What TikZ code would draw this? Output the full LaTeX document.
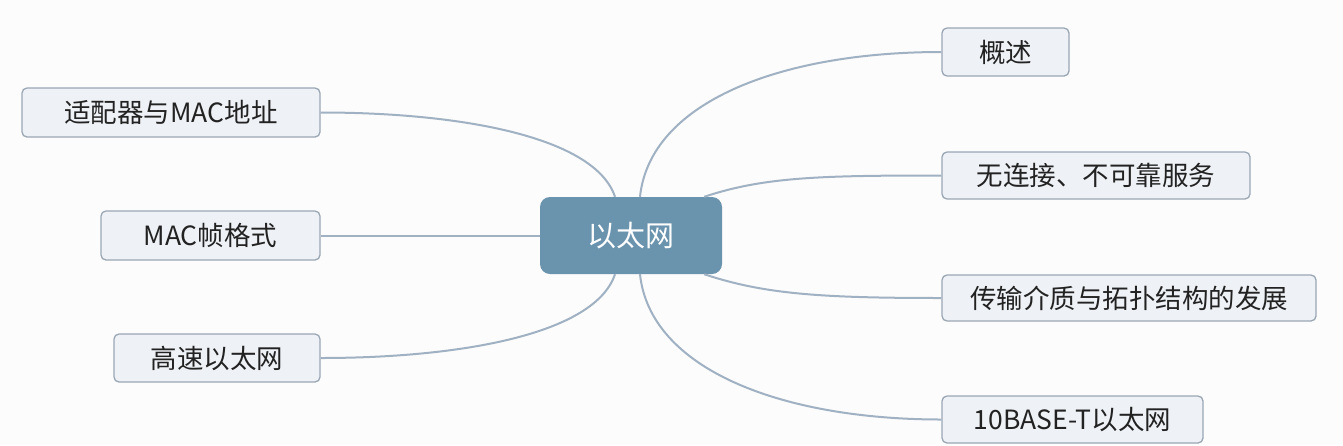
\documentclass[tikz,border=0pt]{standalone}
\usepackage{fontspec}
\setmainfont{Noto Sans CJK SC}
\definecolor{hubfill}{HTML}{6A93AE}
\definecolor{leaffill}{HTML}{EEF1F5}
\definecolor{leafline}{HTML}{9AA7B4}
\definecolor{wire}{HTML}{9FB1C2}
\definecolor{leaftext}{HTML}{222222}
\tikzset{
  hub/.style={rectangle,rounded corners=10pt,fill=hubfill,text=white,font=\fontsize{29}{29}\selectfont},
  leaf/.style={rectangle,draw=leafline,line width=1.3pt,rounded corners=5pt,fill=leaffill,text=leaftext,font=\fontsize{26.5}{26.5}\selectfont},
  wire/.style={draw=wire,line width=2pt}
}
\begin{document}
\begin{tikzpicture}[x=1pt,y=-1pt]
  % background and picture size
  \fill[white!99!black] (0,0) rectangle (1343,445);
  \useasboundingbox (0,0) rectangle (1343,445);
  % draw centre box
  \node at(631,235.5)[hub,minimum width=182pt,minimum height=77pt](ethernet){以太网};
  % draw right boxes
  \node at(1005.5,52)[leaf,minimum width=127pt,minimum height=48pt](overview){概述};
  \node at(1096,175.5)[leaf,minimum width=308pt,minimum height=47pt](service){无连接、不可靠服务};
  \node at(1129,298)[leaf,minimum width=374pt,minimum height=46pt](medium){传输介质与拓扑结构的发展};
  \node at(1072.5,419.5)[leaf,minimum width=261pt,minimum height=47pt](tenbase){10BASE-T以太网};
  % draw left boxes
  \node at(171,112.5)[leaf,minimum width=298pt,minimum height=49pt](adapter){适配器与MAC地址};
  \node at(210.5,235.5)[leaf,minimum width=219pt,minimum height=49pt](frame){MAC帧格式};
  \node at(217,358)[leaf,minimum width=206pt,minimum height=48pt](fast){高速以太网};
  % draw curves from centre box to the boxes
  \path[wire] ([xshift=9pt]ethernet.north) .. controls +(10,-95) and +(-160,0) .. (overview.west);
  \path[wire] ([xshift=-18pt]ethernet.north east) .. controls +(60,-20) and +(-120,0) .. (service.west);
  \path[wire] ([xshift=-18pt]ethernet.south east) .. controls +(60,20) and +(-120,0) .. (medium.west);
  \path[wire] ([xshift=9pt]ethernet.south) .. controls +(10,95) and +(-160,0) .. (tenbase.west);
  \path[wire] ([xshift=-16pt]ethernet.north) .. controls +(-20,-60) and +(140,0) .. (adapter.east);
  \path[wire] (ethernet.west) -- (frame.east);
  \path[wire] ([xshift=-16pt]ethernet.south) .. controls +(-20,60) and +(140,0) .. (fast.east);
\end{tikzpicture}
\end{document}
